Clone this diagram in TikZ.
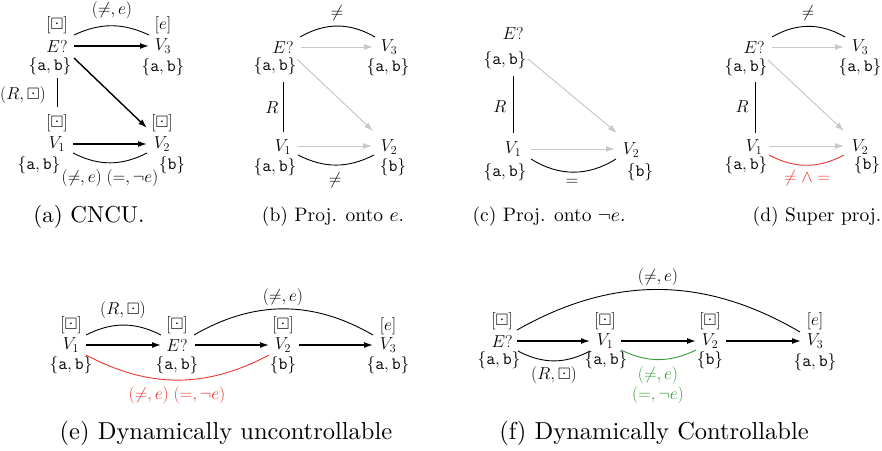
\documentclass[tikz,border=0pt]{standalone}
\usepackage{amssymb}
\usepackage{graphicx}
\usetikzlibrary{arrows.meta,calc}
\definecolor{myred}{RGB}{232,55,45}
\definecolor{mygreen}{RGB}{55,155,55}
\definecolor{mygray}{RGB}{200,200,200}
\newcommand{\ab}{\{\mathtt{a},\mathtt{b}\}}
\newcommand{\bb}{\{\mathtt{b}\}}
\newcommand{\capS}[1]{\scalebox{1.95}{#1}}
\newcommand{\capA}[1]{\scalebox{2.3}{#1}}
\newcommand{\capB}[1]{\scalebox{2.45}{#1}}
\tikzset{
  vnode/.style={inner sep=0pt, font=\fontsize{16.5}{19}\selectfont},
  lbl/.style={inner sep=0pt, font=\fontsize{16.5}{19}\selectfont},
  cnode/.style={inner sep=0pt, font=\fontsize{18.5}{21}\selectfont},
  capstyle/.style={inner sep=0pt, font=\fontsize{10}{12}\selectfont},
  arr/.style={-{Latex[length=9pt,width=6pt]}, line width=1.4pt},
  garr/.style={-{Latex[length=9pt,width=6pt]}, line width=1pt, draw=mygray},
  arcline/.style={line width=0.9pt},
}
\begin{document}
\begin{tikzpicture}[x=1pt,y=-1pt]
\useasboundingbox (0,0) rectangle (882,450);

% ---------------- (a)
\node[vnode] (aE) at (57,46) {$E?$};
\node[vnode] (aV3) at (163,46) {$V_3$};
\node[vnode] (aV1) at (57,144) {$V_1$};
\node[vnode] (aV2) at (162,144) {$V_2$};
\node[lbl] (aEt) at (57,25) {$[\boxdot]$};
\node[lbl] (aV3t) at (163,25) {$[e]$};
\node[lbl] (aV1t) at (57,123) {$[\boxdot]$};
\node[lbl] (aV2t) at (162,123) {$[\boxdot]$};
\node[lbl] (aEb) at (50,66) {$\ab$};
\node[lbl] (aV3b) at (163,67) {$\ab$};
\node[lbl] (aV1b) at (39,165) {$\ab$};
\node[lbl] (aV2b) at (172,165) {$\bb$};
\draw[arr] ($(aE)+(17,0)$) -- ($(aV3)+(-14,0)$);
\draw[arcline] ($(aE)+(17,-11)$) to[bend left=25] ($(aV3)+(-14,-11)$);
\node[lbl] (aL1) at (112,10) {$(\neq,e)$};
\draw[arr] ($(aE)+(17,12)$) -- ($(aV2)+(-15,-16)$);
\draw[arcline] ($(aEb)+(7,12)$) -- ($(aV1t)+(0,-16)$);
\node[lbl] (aL2) at (23,95) {$(R,\boxdot)$};
\draw[arr] ($(aV1)+(16,0)$) -- ($(aV2)+(-15,0)$);
\draw[arcline] ($(aV1)+(16,9)$) to[bend right=27] ($(aV2)+(-15,9)$);
\node[lbl] (aL3) at (110,178) {$(\neq,e)\ (=,\neg e)$};
\node[capstyle] (aC) at (89,217) {\capA{(a) CNCU.}};

% ---------------- (b)
\node[vnode] (bE) at (283,47) {$E?$};
\node[vnode] (bV3) at (389,47) {$V_3$};
\node[vnode] (bV1) at (283,147) {$V_1$};
\node[vnode] (bV2) at (389,147) {$V_2$};
\node[lbl] (bEb) at (275,66) {$\ab$};
\node[lbl] (bV3b) at (388,67) {$\ab$};
\node[lbl] (bV1b) at (275,167) {$\ab$};
\node[lbl] (bV2b) at (393,167) {$\bb$};
\draw[garr] ($(bE)+(18,0)$) -- ($(bV3)+(-16,0)$);
\draw[arcline] ($(bE)+(17,-10)$) to[bend left=30] ($(bV3)+(-14,-10)$);
\node[lbl] (bL1) at (337,13) {$\neq$};
\draw[garr] ($(bE)+(14,12)$) -- ($(bV2)+(-16,-16)$);
\draw[arcline] ($(bEb)+(8,16)$) -- ($(bV1)+(0,-15)$);
\node[lbl] (bL2) at (272,108) {$R$};
\draw[garr] ($(bV1)+(15,-1)$) -- ($(bV2)+(-17,-1)$);
\draw[arcline] ($(bV1)+(15,8)$) to[bend right=27] ($(bV2)+(-15,8)$);
\node[lbl] (bL3) at (335,180) {$\neq$};
\node[capstyle] (bC) at (333,217) {\capS{(b) Proj. onto $e$.}};

% ---------------- (c)
\node[cnode] (cE) at (513,33) {$E?$};
\node[cnode] (cV1) at (513,149) {$V_1$};
\node[cnode] (cV2) at (631,150) {$V_2$};
\node[cnode] (cEb) at (505,60) {$\ab$};
\node[cnode] (cV1b) at (505,172) {$\ab$};
\node[cnode] (cV2b) at (640,172) {$\bb$};
\draw[arcline] ($(cEb)+(8,16)$) -- ($(cV1)+(0,-16)$);
\node[cnode] (cL1) at (500,107) {$R$};
\draw[garr] ($(cE)+(15,26)$) -- ($(cV2)+(-14,-17)$);
\draw[garr] ($(cV1)+(18,0)$) -- ($(cV2)+(-16,-1)$);
\draw[arcline] ($(cV1)+(18,10)$) to[bend right=32] ($(cV2)+(-15,9)$);
\node[cnode] (cL2) at (572,182) {$=$};
\node[capstyle] (cC) at (549,217) {\capS{(c) Proj. onto $\neg e$.}};

% ---------------- (d)
\node[vnode] (dE) at (754,47) {$E?$};
\node[vnode] (dV3) at (860,47) {$V_3$};
\node[vnode] (dV1) at (754,147) {$V_1$};
\node[vnode] (dV2) at (860,147) {$V_2$};
\node[lbl] (dEb) at (746,67) {$\ab$};
\node[lbl] (dV3b) at (860,67) {$\ab$};
\node[lbl] (dV1b) at (746,165) {$\ab$};
\node[lbl] (dV2b) at (867,165) {$\bb$};
\draw[arcline] ($(dE)+(18,-10)$) to[bend left=30] ($(dV3)+(-15,-10)$);
\node[lbl] (dL1) at (808,13) {$\neq$};
\draw[garr] ($(dE)+(18,0)$) -- ($(dV3)+(-16,0)$);
\draw[garr] ($(dE)+(14,13)$) -- ($(dV2)+(-16,-16)$);
\draw[arcline] ($(dEb)+(9,15)$) -- ($(dV1)+(1,-14)$);
\node[lbl] (dL2) at (742,107) {$R$};
\draw[garr] ($(dV1)+(15,-1)$) -- ($(dV2)+(-16,-1)$);
\draw[arcline, draw=myred] ($(dV1)+(15,8)$) to[bend right=28] ($(dV2)+(-16,8)$);
\node[lbl, text=myred] (dL3) at (807,178) {$\neq\wedge=$};
\node[capstyle] (dC) at (817,217) {\capS{(d) Super proj.}};

% ---------------- (e)
\node[vnode] (eV1) at (71,345) {$V_1$};
\node[vnode] (eE) at (177,345) {$E?$};
\node[vnode] (eV2) at (283,345) {$V_2$};
\node[vnode] (eV3) at (388,345) {$V_3$};
\node[lbl] (eV1t) at (71,325) {$[\boxdot]$};
\node[lbl] (eEt) at (177,325) {$[\boxdot]$};
\node[lbl] (eV2t) at (283,325) {$[\boxdot]$};
\node[lbl] (eV3t) at (388,326) {$[e]$};
\node[lbl] (eV1b) at (71,365) {$\ab$};
\node[lbl] (eEb) at (177,365) {$\ab$};
\node[lbl] (eV2b) at (283,365) {$\bb$};
\node[lbl] (eV3b) at (388,365) {$\ab$};
\draw[arr] ($(eV1)+(15,0)$) -- ($(eE)+(-16,0)$);
\draw[arr] ($(eE)+(18,0)$) -- ($(eV2)+(-14,0)$);
\draw[arr] ($(eV2)+(16,0)$) -- ($(eV3)+(-15,0)$);
\draw[arcline] ($(eV1)+(15,-10)$) to[bend left=27] ($(eE)+(-16,-10)$);
\node[lbl] (eL1) at (123,310) {$(R,\boxdot)$};
\draw[arcline] ($(eE)+(17,-10)$) to[bend left=30] ($(eV3)+(-15,-10)$);
\node[lbl] (eL2) at (283,297) {$(\neq,e)$};
\draw[arcline, draw=myred] ($(eV1)+(15,10)$) to[bend right=28] ($(eV2)+(-14,10)$);
\node[lbl, text=myred] (eL3) at (177,395) {$(\neq,e)\ (=,\neg e)$};
\node[capstyle] (eC) at (226,433) {\capB{(e) Dynamically uncontrollable}};

% ---------------- (f)
\node[vnode] (fE) at (502,341) {$E?$};
\node[vnode] (fV1) at (605,341) {$V_1$};
\node[vnode] (fV2) at (710,341) {$V_2$};
\node[vnode] (fV3) at (815,341) {$V_3$};
\node[lbl] (fEt) at (502,321) {$[\boxdot]$};
\node[lbl] (fV1t) at (605,321) {$[\boxdot]$};
\node[lbl] (fV2t) at (710,321) {$[\boxdot]$};
\node[lbl] (fV3t) at (815,321) {$[e]$};
\node[lbl] (fEb) at (499,360) {$\ab$};
\node[lbl] (fV1b) at (606,360) {$\ab$};
\node[lbl] (fV2b) at (710,360) {$\bb$};
\node[lbl] (fV3b) at (815,362) {$\ab$};
\draw[arr] ($(fE)+(15,0)$) -- ($(fV1)+(-15,0)$);
\draw[arr] ($(fV1)+(16,0)$) -- ($(fV2)+(-14,0)$);
\draw[arr] ($(fV2)+(16,0)$) -- ($(fV3)+(-14,0)$);
\draw[arcline] ($(fE)+(15,-11)$) to[bend left=30] ($(fV3)+(-15,-9)$);
\node[lbl] (fL1) at (658,277) {$(\neq,e)$};
\draw[arcline] ($(fE)+(16,10)$) to[bend right=28] ($(fV1)+(-15,10)$);
\node[lbl] (fL2) at (554,375) {$(R,\boxdot)$};
\draw[arcline, draw=mygreen] ($(fV1)+(16,9)$) to[bend right=26] ($(fV2)+(-14,9)$);
\node[lbl, text=mygreen] (fL3) at (658,375) {$(\neq,e)$};
\node[lbl, text=mygreen] (fL4) at (658,395) {$(=,\neg e)$};
\node[capstyle] (fC) at (654,433) {\capB{(f) Dynamically Controllable}};
\end{tikzpicture}
\end{document}
